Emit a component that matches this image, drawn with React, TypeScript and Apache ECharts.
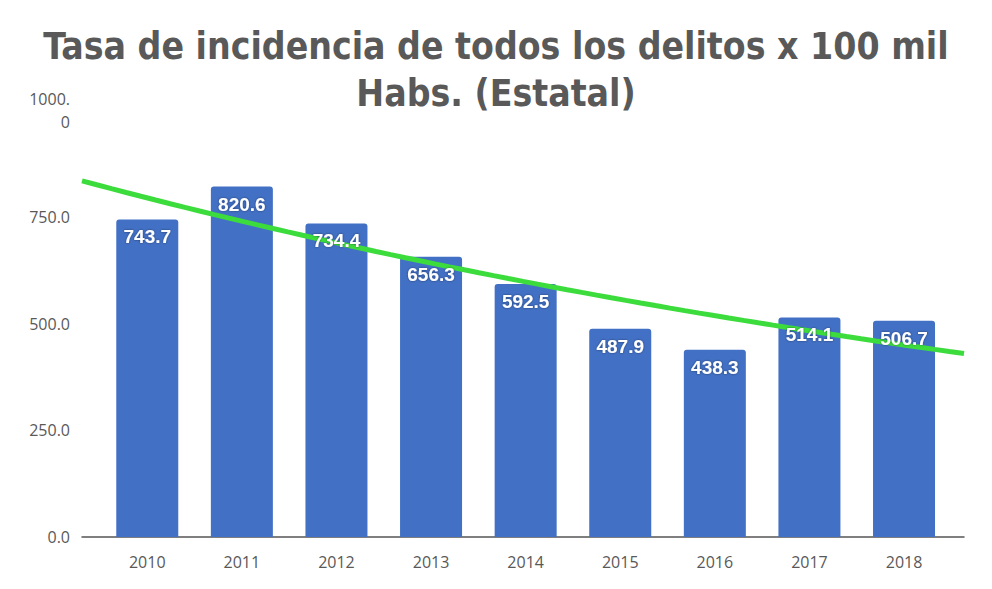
import React, { useEffect, useRef } from "react";
import * as echarts from "echarts";

const years = [2010, 2011, 2012, 2013, 2014, 2015, 2016, 2017, 2018];
const values = [743.7, 820.6, 734.4, 656.3, 592.5, 487.9, 438.3, 514.1, 506.7];
const yTicks = [0, 250, 500, 750, 1000];
const titleLines = ["Tasa de incidencia de todos los delitos x 100 mil", "Habs. (Estatal)"];

// exponential trendline fitted from data (least squares on ln values)
function expFit(xs: number[], ys: number[]) {
  const n = xs.length;
  const lx = xs.map((x) => x - xs[0]);
  const ly = ys.map((y) => Math.log(y));
  const mx = lx.reduce((a, b) => a + b, 0) / n;
  const my = ly.reduce((a, b) => a + b, 0) / n;
  let sxy = 0, sxx = 0;
  for (let i = 0; i < n; i++) {
    sxy += (lx[i] - mx) * (ly[i] - my);
    sxx += (lx[i] - mx) * (lx[i] - mx);
  }
  const b = sxy / sxx;
  const a = my - b * mx;
  return (x: number) => Math.exp(a + b * (x - xs[0]));
}

export default function App() {
  const ref = useRef<HTMLDivElement>(null);
  useEffect(() => {
    const chart = echarts.init(ref.current!, undefined, { renderer: "svg" });
    const xMin = 2009.31;
    const xMax = 2018.634;
    const f = expFit(years, values);
    const trend: number[][] = [];
    const steps = 60;
    for (let i = 0; i <= steps; i++) {
      const x = xMin + ((xMax - xMin) * i) / steps;
      trend.push([x, f(x)]);
    }
    const barData = years.map((y, i) => [y, values[i]]);
    chart.setOption({
      animation: false,
      backgroundColor: "#ffffff",
      title: {
        text: titleLines.join("\n"),
        left: "center",
        top: 18,
        textStyle: {
          fontFamily: "Liberation Sans Narrow, DejaVu Sans Condensed, Open Sans, sans-serif",
          fontWeight: "bold",
          fontSize: 37,
          lineHeight: 47,
          color: "#595959",
        },
      },
      grid: { left: 82, right: 28, top: 110, bottom: 52 },
      xAxis: {
        type: "value",
        min: xMin,
        max: xMax,
        splitLine: { show: false },
        axisLine: { show: true, lineStyle: { color: "#555555", width: 1.5 } },
        axisTick: { show: false },
        axisLabel: {
          customValues: years,
          formatter: (v: number) => String(Math.round(v)),
          color: "#595959",
          fontSize: 16,
          margin: 17,
          fontFamily: "Open Sans, sans-serif",
        },
      },
      yAxis: {
        type: "value",
        min: 0,
        max: 1000,
        interval: 250,
        splitLine: { show: false },
        axisLine: { show: false },
        axisTick: { show: false },
        axisLabel: {
          formatter: (v: number) => (v === 1000 ? "1000.\n0" : v.toFixed(1)),
          color: "#595959",
          fontSize: 16,
          lineHeight: 23,
          margin: 12,
          fontFamily: "Open Sans, sans-serif",
        },
      },
      series: [
        {
          type: "bar",
          data: barData,
          barWidth: 62,
          itemStyle: { color: "#4270c4", borderRadius: [3, 3, 0, 0] },
          z: 2,
        },
        {
          type: "line",
          data: trend,
          showSymbol: false,
          symbol: "none",
          lineStyle: { color: "#3ddc3d", width: 5 },
          z: 3,
        },
        {
          type: "bar",
          data: barData,
          barWidth: 62,
          barGap: "-100%",
          itemStyle: { color: "rgba(0,0,0,0)" },
          label: {
            show: true,
            position: "insideTop",
            distance: 8,
            formatter: (p: any) => p.value[1].toFixed(1),
            color: "#ffffff",
            fontWeight: "bold",
            fontSize: 19,
            fontFamily: "Liberation Sans, Arial, sans-serif",
            textShadowColor: "rgba(0,0,0,0.45)",
            textShadowBlur: 2,
          },
          z: 4,
        },
      ],
    });
    return () => chart.dispose();
  }, []);
  return (
    <div
      ref={ref}
      style={{ position: "fixed", left: 0, top: 0, width: 992, height: 589 }}
    />
  );
}
